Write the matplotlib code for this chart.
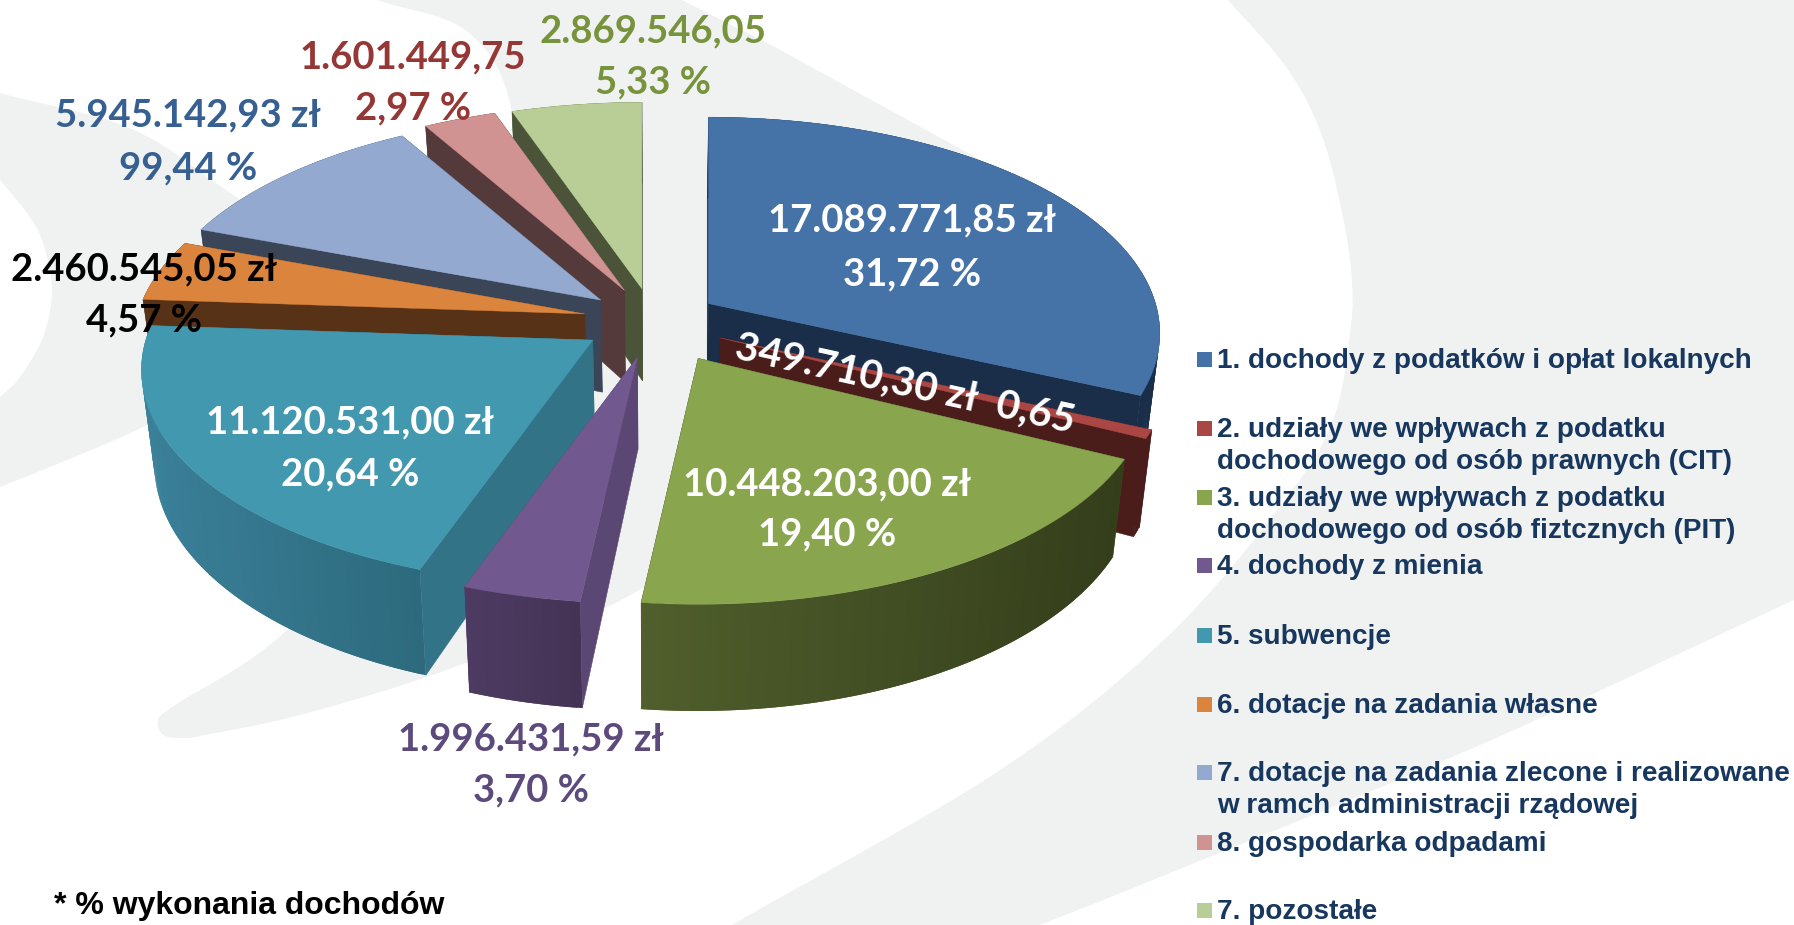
import numpy as np
import matplotlib
matplotlib.use("Agg")
import matplotlib.pyplot as plt
from matplotlib.patches import Polygon, Rectangle
from matplotlib.colors import to_rgb

# Dane: dochody wg zrodel (zl)
values = [17089771.85, 349710.30, 10448203.00, 1996431.59, 11120531.00,
          2460545.05, 5945142.93, 1601449.75, 2869546.05]
amount_labels = ["17.089.771,85 zł", "349.710,30 zł  0,65", "10.448.203,00 zł", "1.996.431,59 zł",
                 "11.120.531,00 zł", "2.460.545,05 zł", "5.945.142,93 zł", "1.601.449,75", "2.869.546,05"]
percent_labels = ["31,72 %", "", "19,40 %", "3,70 %", "20,64 %", "4,57 %", "99,44 %", "2,97 %", "5,33 %"]
legend_labels = ["1. dochody z podatków i opłat lokalnych",
                 "2. udziały we wpływach z podatku\ndochodowego od osób prawnych (CIT)",
                 "3. udziały we wpływach z podatku\ndochodowego od osób fiztcznych (PIT)",
                 "4. dochody z mienia",
                 "5. subwencje",
                 "6. dotacje na zadania własne",
                 "7. dotacje na zadania zlecone i realizowane\nw ramch administracji rządowej",
                 "8. gospodarka odpadami",
                 "7. pozostałe"]

# Kolory: wierzch, sciana ciecia, sciana zewn. lewa / prawa
top_colors = ["#4572a7", "#aa4643", "#89a54e", "#71588f", "#4198af", "#db843d", "#93a9cf", "#d19392", "#b9cd96"]
cut_colors = ["#1a2e49", "#4a1c1a", "#3c4820", "#5b4774", "#327388", "#573216", "#3a4558", "#543a3b", "#4b5438"]
wall_left = ["#1a2e49", "#4a1c1a", "#505f2c", "#4e3b63", "#3a8099", "#573216", "#3a4558", "#543a3b", "#4b5438"]
wall_right = ["#1a2e49", "#4a1c1a", "#343e1b", "#443355", "#2d6a7d", "#573216", "#3a4558", "#543a3b", "#4b5438"]
label_colors = ["white", "white", "white", "#5d4a7d", "white", "black", "#376092", "#953735", "#77933c"]

# Uklad (piksele obrazu, tarcza w jednostkach promienia)
CX, CY = 658, 323
RX, RY = 447, 212
PERSP = 0.1377
DEPTH = 92
TAPER = 0.025
off_x = [0.113, 0.138, 0.090, -0.046, -0.146, -0.164, -0.128, -0.075, -0.036]
off_y = [0.092, -0.070, -0.167, -0.162, -0.081, 0.043, 0.108, 0.154, 0.162]
draw_order = [8, 7, 6, 5, 4, 3, 0, 1, 2]
label_xy = [(912, 220), (905, 384), (827, 484), (531, 739), (350, 422), (144, 269), (188, 115), (413, 57), (653, 31)]
percent_xy = [(912, 274), None, (827, 534), (531, 790), (350, 474), (144, 320), (188, 168), (413, 108), (653, 82)]
legend_y = [361, 446, 515, 567, 637, 706, 790, 844, 912]
LABEL_SIZE = 27.5
LEGEND_SIZE = 20.1
GREY = "#f0f2f1"


def project(i, angle, radius=1.0, z=0.0):
    X = radius * np.sin(angle)
    Y = radius * np.cos(angle)
    s = 1 / (1 + PERSP * Y)
    x = CX + RX * off_x[i] + RX * X * s
    y = CY - RY * off_y[i] - RY * Y * s + DEPTH * s * z
    x = CX + (x - CX) * (1 - TAPER * z)
    return np.column_stack([x, y])


def smooth(points, n=24):
    # Catmull-Rom przez punkty tla
    p = np.array(points, dtype=float)
    p = np.vstack([2 * p[0] - p[1], p, 2 * p[-1] - p[-2]])
    out = []
    for k in range(1, len(p) - 2):
        t = np.linspace(0, 1, n, endpoint=False)[:, None]
        out.append(0.5 * (2 * p[k] + (p[k + 1] - p[k - 1]) * t
                          + (2 * p[k - 1] - 5 * p[k] + 4 * p[k + 1] - p[k + 2]) * t ** 2
                          + (3 * p[k] - p[k - 1] - 3 * p[k + 1] + p[k + 2]) * t ** 3))
    out.append(p[-2][None, :])
    return np.vstack(out)


fig = plt.figure(figsize=(17.94, 9.25), dpi=100)
ax = fig.add_axes([0, 0, 1, 1])
ax.set_xlim(0, 1794)
ax.set_ylim(925, 0)
ax.axis("off")

# Tlo: jasnoszare luki
arc_a = smooth([(732, 925), (1000, 770), (1170, 634), (1290, 493), (1334, 417), (1350, 333),
                (1352, 283), (1343, 217), (1321, 133), (1286, 67), (1228, 0)])
edge_a = smooth([(1794, 600), (1480, 745), (1170, 873), (1040, 925)])
ax.add_patch(Polygon(np.vstack([arc_a, [(1794, 0)], edge_a]), fc=GREY, ec="none", zorder=0))
swoosh_l = smooth([(377, 0), (469, 33), (513, 117), (520, 300), (430, 470), (286, 631), (175, 705), (158, 721), (165, 736), (190, 738)])
swoosh_r = smooth([(190, 738), (300, 715), (452, 668), (632, 594), (900, 420), (1050, 300), (1020, 190), (990, 165)])
ax.add_patch(Polygon(np.vstack([swoosh_l, swoosh_r, [(773, 46), (682, 0)]]), fc=GREY, ec="none", zorder=0))
band_up = smooth([(0, 93), (134, 130), (241, 200), (400, 300)])
band_lo = smooth([(400, 300), (300, 350), (143, 427), (67, 460), (0, 487)])
ax.add_patch(Polygon(np.vstack([band_up, band_lo]), fc=GREY, ec="none", zorder=0))
lens = smooth([(0, 180), (27, 213), (43, 243), (52, 290), (43, 337), (20, 377), (0, 397)])
ax.add_patch(Polygon(lens, fc="white", ec="none", zorder=0.5))

# Kola: katy liczone z wartosci, zgodnie z ruchem wskazowek od gory
fractions = np.array(values) / np.sum(values)
edges = np.concatenate([[0], np.cumsum(fractions)]) * 2 * np.pi

for rank, i in enumerate(draw_order):
    a0, a1 = edges[i], edges[i + 1]
    zo = 2 + rank
    arc = np.linspace(a0, a1, max(int(np.degrees(a1 - a0)) * 2, 4))

    # sciany ciecia
    for a in (a0, a1):
        face = np.vstack([project(i, a, 0), project(i, a, 1), project(i, a, 1, 1), project(i, a, 0, 1)])
        ax.add_patch(Polygon(face, fc=cut_colors[i], ec=cut_colors[i], lw=0.4, zorder=zo))

    # sciana zewnetrzna z gradientem, paski zachodza na siebie zeby nie bylo szwow
    topo = project(i, arc)
    bott = project(i, arc, 1, 1)
    cl, cr = np.array(to_rgb(wall_left[i])), np.array(to_rgb(wall_right[i]))
    xs = topo[:, 0]
    for k in range(len(arc) - 1):
        f = (xs[k] - xs.min()) / max(xs.max() - xs.min(), 1)
        col = cl + (cr - cl) * f
        k2 = min(k + 2, len(arc) - 1)
        quad = np.vstack([topo[k:k2 + 1], bott[k:k2 + 1][::-1]])
        ax.add_patch(Polygon(quad, fc=col, ec="none", zorder=zo))

    # wierzch
    ax.add_patch(Polygon(np.vstack([project(i, a0, 0), topo]), fc=top_colors[i], ec=top_colors[i], lw=0.3, zorder=zo))

# Etykiety
font = "Lato"
for i in range(len(values)):
    rot = -12.5 if i == 1 else 0
    size = 29 if i == 1 else LABEL_SIZE
    ax.text(*label_xy[i], amount_labels[i], color=label_colors[i], fontsize=size, family=font,
            fontweight="bold", ha="center", va="center", rotation=rot, rotation_mode="anchor", zorder=30)
    if percent_xy[i]:
        ax.text(*percent_xy[i], percent_labels[i], color=label_colors[i], fontsize=LABEL_SIZE, family=font,
                fontweight="bold", ha="center", va="center", zorder=30)

# Legenda
for i, lab in enumerate(legend_labels):
    first_y = legend_y[i] - 16 if "\n" in lab else legend_y[i]
    ax.add_patch(Rectangle((1197, first_y - 9), 15, 15, fc=top_colors[i], ec="none", zorder=20))
    ax.text(1217, legend_y[i], lab, color="#17375e", fontsize=LEGEND_SIZE, family="Liberation Sans",
            fontweight="bold", ha="left", va="center", linespacing=1.27, zorder=20)

ax.text(54, 906, "* % wykonania dochodów", color="black", fontsize=23, family="Liberation Sans",
        fontweight="bold", ha="left", va="center", zorder=20)

fig.savefig("out.png", dpi=100)
